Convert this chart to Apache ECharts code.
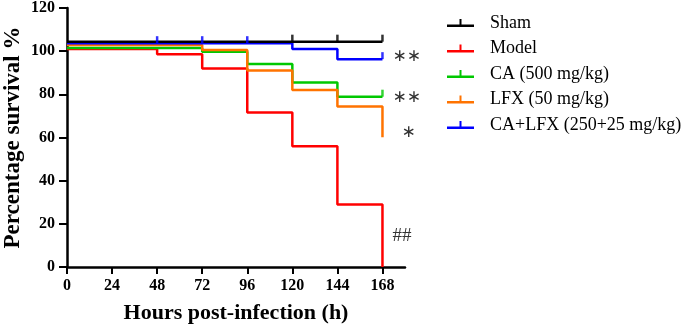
<!DOCTYPE html>
<html>
<head>
<meta charset="utf-8">
<script src="https://cdn.jsdelivr.net/npm/echarts@6/dist/echarts.min.js"></script>
<style>
html,body{margin:0;padding:0;background:#fff;}
#chart{width:685px;height:330px;}
</style>
</head>
<body>
<div id="chart"></div>
<script>
// survival data (offset a little per group like the original plot)
var hours = [0, 48, 72, 96, 120, 144, 168];
var xTicks = [0, 24, 48, 72, 96, 120, 144, 168];
var groupNames = ['Sham', 'Model', 'CA (500 mg/kg)', 'LFX (50 mg/kg)', 'CA+LFX (250+25 mg/kg)'];
var groupColors = ['#000000', '#ff0000', '#00c800', '#ff7300', '#0000ff'];
var sham = [104.4, 104.4, 104.4, 104.4, 104.4, 104.4, 104.4];
var model = [101.0, 98.6, 92.0, 71.6, 55.9, 29.0, 0];
var ca = [101.5, 101.5, 99.7, 94.0, 85.5, 78.9, 78.9];
var lfx = [102.8, 102.8, 100.5, 91.0, 82.0, 74.4, 60.1];
var calfx = [103.7, 103.7, 103.7, 103.7, 101.0, 96.3, 96.3];
// censored marks
var shamCensor = [[120, 104.4], [144, 104.4], [168, 104.4]];
var calfxCensor = [[48, 103.7], [72, 103.7], [96, 103.7], [168, 96.3]];
var caCensor = [[168, 78.9]];
// significance labels [x, y, text, group]
var marks = [
    [168, 97.4, '∗∗', 4],
    [168, 78.5, '∗∗', 2],
    [168, 62.3, '∗', 3],
    [168, 14.4, '##', 1]
];

var serif = 'Liberation Serif';
var pair = function (vals) {
    return hours.map(function (h, i) { return [h, vals[i]]; });
};

var chart = echarts.init(document.getElementById('chart'));
var allVals = [sham, model, ca, lfx, calfx];

var series = [];
// draw order: red under the rest
[1, 2, 3, 4, 0].forEach(function (g) {
    var s = {
        name: groupNames[g],
        type: 'line',
        step: 'end',
        data: pair(allVals[g]),
        showSymbol: false,
        symbol: 'none',
        color: groupColors[g],
        lineStyle: {width: 2.5, color: groupColors[g]},
        animation: false,
        z: 2
    };
    var mk = marks.filter(function (m) { return m[3] === g; });
    if (mk.length) {
        s.markPoint = {
            symbol: 'circle',
            symbolSize: 0,
            animation: false,
            data: mk.map(function (m) {
                return {
                    coord: [m[0], m[1]],
                    label: {
                        show: true,
                        position: 'right',
                        distance: m[2] == '∗' ? 19 : 10,
                        formatter: m[2],
                        color: '#333',
                        fontFamily: m[2] == '##' ? serif : 'DejaVu Sans',
                        fontSize: m[2] == '##' ? 19 : 17
                    }
                };
            })
        };
    }
    series.push(s);
});

var censorSeries = function (name, data, color) {
    return {
        name: name,
        type: 'scatter',
        data: data,
        symbol: 'rect',
        symbolSize: [2.5, 7],
        symbolOffset: [0, -3.5],
        itemStyle: {color: color},
        animation: false,
        z: 3
    };
};
series.push(censorSeries('c_sham', shamCensor, groupColors[0]));
series.push(censorSeries('c_calfx', calfxCensor, groupColors[4]));
series.push(censorSeries('c_ca', caCensor, groupColors[2]));

chart.setOption({
    backgroundColor: '#fff',
    grid: {left: 67, right: 280, top: 7, bottom: 63},
    legend: {
        data: groupNames,
        orient: 'vertical',
        left: 447,
        top: 14,
        padding: 0,
        itemWidth: 27,
        itemHeight: 8,
        itemGap: 7.5,
        icon: 'path://M0,5.5L12.5,5.5L12.5,0L14.5,0L14.5,5.5L27,5.5L27,8L0,8Z',
        textStyle: {
            fontFamily: serif,
            fontSize: 18,
            lineHeight: 16,
            color: '#000',
            padding: [0, 0, 0, 11]
        }
    },
    xAxis: {
        type: 'value',
        min: 0,
        max: 180,
        interval: 24,
        name: 'Hours post-infection (h)',
        nameLocation: 'middle',
        nameGap: 35,
        nameTextStyle: {fontFamily: serif, fontSize: 22, fontWeight: 'bold', color: '#000'},
        splitLine: {show: false},
        axisLine: {lineStyle: {color: '#000', width: 2.5}},
        axisTick: {length: 7, lineStyle: {color: '#000', width: 2}, customValues: xTicks},
        axisLabel: {
            customValues: xTicks,
            margin: 11,
            fontFamily: serif,
            fontSize: 16,
            fontWeight: 'bold',
            color: '#000'
        }
    },
    yAxis: {
        type: 'value',
        min: 0,
        max: 120,
        interval: 20,
        name: 'Percentage survival %',
        nameLocation: 'middle',
        nameGap: 42,
        nameTextStyle: {fontFamily: serif, fontSize: 23, fontWeight: 'bold', color: '#000'},
        splitLine: {show: false},
        axisLine: {show: true, lineStyle: {color: '#000', width: 2.5}},
        axisTick: {show: true, length: 8, lineStyle: {color: '#000', width: 2}},
        axisLabel: {
            margin: 12,
            fontFamily: serif,
            fontSize: 16,
            fontWeight: 'bold',
            color: '#000'
        }
    },
    series: series
});
</script>
</body>
</html>
